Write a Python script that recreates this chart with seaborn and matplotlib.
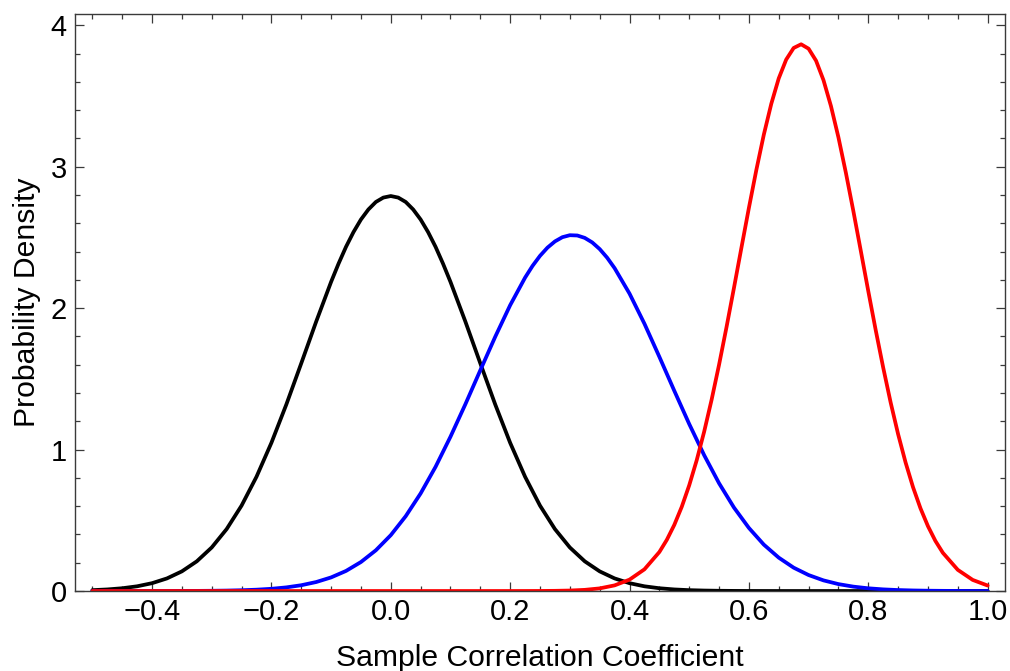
import matplotlib
matplotlib.use("Agg")
import matplotlib.pyplot as plt
import numpy as np
import pandas as pd
import seaborn as sns
from matplotlib.ticker import MultipleLocator, FuncFormatter

# ---- data ----
r_grid = [-0.5, -0.475, -0.45, -0.425, -0.4, -0.375, -0.35, -0.325, -0.3, -0.275,
          -0.25, -0.225, -0.2, -0.175, -0.15, -0.125, -0.1, -0.075, -0.05, -0.025,
          0.0, 0.025, 0.05, 0.075, 0.1, 0.125, 0.15, 0.175, 0.2, 0.225,
          0.25, 0.275, 0.3, 0.325, 0.35, 0.375, 0.4, 0.425, 0.45, 0.475,
          0.5, 0.525, 0.55, 0.575, 0.6, 0.625, 0.65, 0.675, 0.7, 0.725,
          0.75, 0.775, 0.8, 0.825, 0.85, 0.875, 0.9, 0.925, 0.95, 0.975, 1.0]

black_density = [0.0061, 0.0111, 0.0196, 0.0334, 0.0554, 0.0891, 0.139, 0.210, 0.308, 0.438,
                 0.604, 0.808, 1.048, 1.319, 1.610, 1.905, 2.186, 2.434, 2.627, 2.751,
                 2.793, 2.751, 2.627, 2.434, 2.186, 1.905, 1.610, 1.319, 1.048, 0.808,
                 0.604, 0.438, 0.308, 0.210, 0.139, 0.0891, 0.0554, 0.0334, 0.0196, 0.0111,
                 0.0061, 0.0033, 0.0017, 0.0008, 0.0004, 0.0002, 0.0001, 0.0, 0.0, 0.0,
                 0.0, 0.0, 0.0, 0.0, 0.0, 0.0, 0.0, 0.0, 0.0, 0.0, 0.0]

blue_density = [0.0, 0.0, 0.00003, 0.00006, 0.00013, 0.00025, 0.0005, 0.0009, 0.0017, 0.0031,
                0.0055, 0.0094, 0.0157, 0.0257, 0.0409, 0.0635, 0.0962, 0.142, 0.205, 0.288,
                0.395, 0.529, 0.690, 0.878, 1.091, 1.321, 1.561, 1.798, 2.021, 2.216,
                2.370, 2.472, 2.516, 2.497, 2.418, 2.283, 2.103, 1.890, 1.656, 1.416,
                1.181, 0.961, 0.762, 0.590, 0.446, 0.328, 0.236, 0.165, 0.113, 0.0752,
                0.0489, 0.0310, 0.0192, 0.0116, 0.0068, 0.0039, 0.0022, 0.0012, 0.0006, 0.0003, 0.0002]

red_density = [0.0, 0.0, 0.0, 0.0, 0.0, 0.0, 0.0, 0.0, 0.0, 0.0,
               0.0, 0.0, 0.0, 0.0, 0.0, 0.0, 0.0, 0.0, 0.0, 0.0,
               0.0, 0.0, 0.0, 0.0, 0.0, 0.0, 0.00001, 0.00002, 0.00006, 0.00017,
               0.00049, 0.0013, 0.0034, 0.0082, 0.0186, 0.0399, 0.0805, 0.1535, 0.2758, 0.4675,
               0.7474, 1.126, 1.600, 2.144, 2.709, 3.227, 3.625, 3.840, 3.835, 3.612,
               3.208, 2.687, 2.121, 1.580, 1.109, 0.734, 0.4585, 0.2699, 0.1497, 0.0784, 0.0387]

# extra points read around each peak
black_peak_r = [-0.0875, -0.0625, -0.0375, -0.0125, 0.0125, 0.0375, 0.0625, 0.0875]
black_peak_density = [2.315, 2.538, 2.698, 2.782, 2.782, 2.698, 2.538, 2.315]

blue_peak_r = [0.2375, 0.2625, 0.2875, 0.3125, 0.3375, 0.3625]
blue_peak_density = [2.299, 2.428, 2.502, 2.514, 2.465, 2.357]

red_peak_r = [0.4625, 0.4875, 0.5125, 0.5375, 0.5625, 0.5875, 0.6125, 0.6375, 0.6625,
              0.6875, 0.7125, 0.7375, 0.7625, 0.7875, 0.8125, 0.8375, 0.8625, 0.8875, 0.9125]
red_peak_density = [0.362, 0.5954, 0.924, 1.352, 1.866, 2.428, 2.978, 3.445, 3.758,
                    3.866, 3.750, 3.429, 2.957, 2.405, 1.844, 1.333, 0.909, 0.5845, 0.354]

series_names = ["black", "blue", "red"]
series_colors = {"black": "#000000", "blue": "#0000FF", "red": "#FF0000"}

x_ticks = [-0.4, -0.2, 0.0, 0.2, 0.4, 0.6, 0.8, 1.0]
y_ticks = [0, 1, 2, 3, 4]

# ---- long table ----
frames = [
    pd.DataFrame({"r": r_grid + black_peak_r, "density": black_density + black_peak_density,
                  "series": "black"}),
    pd.DataFrame({"r": r_grid + blue_peak_r, "density": blue_density + blue_peak_density,
                  "series": "blue"}),
    pd.DataFrame({"r": r_grid + red_peak_r, "density": red_density + red_peak_density,
                  "series": "red"}),
]
df = pd.concat(frames, ignore_index=True).sort_values(["series", "r"])

sns.set_theme(style="white")
plt.rcParams["font.family"] = ["Liberation Sans", "DejaVu Sans"]
plt.rcParams["lines.solid_joinstyle"] = "round"
plt.rcParams["lines.solid_capstyle"] = "round"

fig = plt.figure(figsize=(10.1, 6.71), dpi=100)
ax = fig.add_axes([0.0743, 0.1192, 0.9207, 0.8599])

sns.lineplot(data=df, x="r", y="density", hue="series", hue_order=series_names,
             palette=series_colors, estimator=None, sort=True, linewidth=2.7,
             legend=False, ax=ax)

ax.set_xlim(-0.529, 1.029)
ax.set_ylim(0, 4.08)

frame_color = "#3a3a3a"
for s in ax.spines.values():
    s.set_visible(True)
    s.set_color(frame_color)
    s.set_linewidth(1.0)

ax.set_xticks(x_ticks)
ax.set_yticks(y_ticks)
ax.xaxis.set_minor_locator(MultipleLocator(0.05))
ax.yaxis.set_minor_locator(MultipleLocator(0.2))
ax.xaxis.set_major_formatter(FuncFormatter(lambda v, p: f"{v:.1f}".replace("-", "\u2212")))
ax.yaxis.set_major_formatter(FuncFormatter(lambda v, p: f"{v:.0f}"))

ax.tick_params(which="both", direction="in", top=True, right=True, bottom=True, left=True,
               color=frame_color, width=0.9)
ax.tick_params(which="major", length=6.5, labelsize=21, labelcolor="black")
ax.tick_params(which="minor", length=3.5)
ax.tick_params(axis="x", which="major", pad=5)
ax.tick_params(axis="y", which="major", pad=6)

ax.set_xlabel("Sample Correlation Coefficient", fontsize=21.7, color="black", labelpad=13)
ax.set_ylabel("Probability Density", fontsize=21.7, color="black", labelpad=7)
ax.grid(False)

fig.savefig("out.png", dpi=100)
